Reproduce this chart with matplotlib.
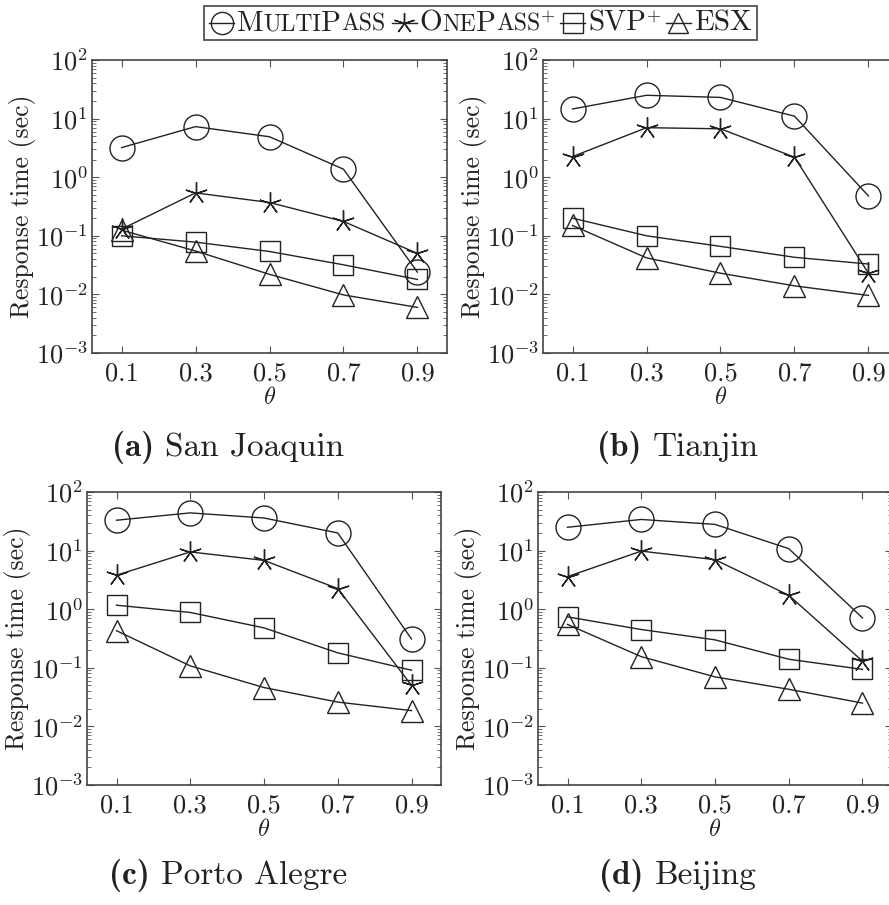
import matplotlib
matplotlib.use("Agg")
import matplotlib.pyplot as plt
from matplotlib.lines import Line2D
from matplotlib.patches import Rectangle
from matplotlib.transforms import IdentityTransform
import numpy as np

plt.rcParams['mathtext.fontset'] = 'cm'
plt.rcParams['font.family'] = ['cmr10', 'DejaVu Serif']
plt.rcParams['axes.formatter.use_mathtext'] = True
plt.rcParams['axes.unicode_minus'] = False

# ---------------- data ----------------
theta = [0.1, 0.3, 0.5, 0.7, 0.9]
theta_ticks = ["0.1", "0.3", "0.5", "0.7", "0.9"]
series_names = ["MultiPass", "OnePass+", "SVP+", "ESX"]

sj_multipass = [3.2, 7.3, 4.9, 1.37, 0.024]
sj_onepass = [0.13, 0.54, 0.37, 0.176, 0.05]
sj_svp = [0.10, 0.078, 0.054, 0.032, 0.018]
sj_esx = [0.125, 0.055, 0.022, 0.0098, 0.006]

tj_multipass = [14.6, 25, 23, 11, 0.48]
tj_onepass = [2.25, 7.0, 6.7, 2.2, 0.023]
tj_svp = [0.20, 0.10, 0.066, 0.043, 0.033]
tj_esx = [0.15, 0.042, 0.023, 0.014, 0.0096]

pa_multipass = [33, 44, 36, 20, 0.31]
pa_onepass = [3.8, 9.5, 6.8, 2.25, 0.05]
pa_svp = [1.17, 0.88, 0.48, 0.18, 0.091]
pa_esx = [0.43, 0.108, 0.046, 0.026, 0.0186]

bj_multipass = [25, 34, 28, 10.8, 0.71]
bj_onepass = [3.6, 9.8, 7.0, 1.73, 0.13]
bj_svp = [0.74, 0.45, 0.30, 0.14, 0.094]
bj_esx = [0.55, 0.155, 0.07, 0.043, 0.025]

panel_labels = ["(a)", "(b)", "(c)", "(d)"]
panel_cities = ["San Joaquin", "Tianjin", "Porto Alegre", "Beijing"]
panel_data = [
    [sj_multipass, sj_onepass, sj_svp, sj_esx],
    [tj_multipass, tj_onepass, tj_svp, tj_esx],
    [pa_multipass, pa_onepass, pa_svp, pa_esx],
    [bj_multipass, bj_onepass, bj_svp, bj_esx],
]

# ---------------- style ----------------
W, H = 889, 905
fig = plt.figure(figsize=(W / 100, H / 100), dpi=100)

LC = '#222222'
markers = ['o', (5, 2, 0), 's', '^']
msizes = [18, 16, 15, 16]

# axes rectangles in pixels: left, top, right, bottom
rects_px = [
    (92, 60, 447, 353),
    (543, 60, 898, 353),
    (87, 492, 441, 785),
    (538, 492, 892, 785),
]
captions_px = [(228, 447), (678, 447), (228, 875), (678, 875)]

for i, (l, t, r, b) in enumerate(rects_px):
    ax = fig.add_axes([l / W, 1 - b / H, (r - l) / W, (b - t) / H])
    for j, vals in enumerate(panel_data[i]):
        ax.plot(theta, vals, color=LC, lw=1.0, marker=markers[j],
                ms=msizes[j], mfc='none', mec=LC, mew=1.0)
    ax.set_yscale('log')
    ax.set_ylim(1e-3, 1e2)
    ax.set_xlim(0.02, 0.98)
    ax.set_xticks(theta)
    ax.set_xticklabels(theta_ticks)
    ax.tick_params(axis='both', which='both', direction='in', top=True,
                   right=True, colors='#555555', labelcolor='#222222',
                   labelsize=19)
    ax.tick_params(axis='both', which='major', length=5, width=0.8)
    ax.tick_params(axis='y', which='minor', length=3, width=0.6)
    ax.tick_params(axis='x', which='major', pad=6)
    ax.tick_params(axis='y', which='major', pad=3)
    for s in ax.spines.values():
        s.set_color('#444444')
        s.set_linewidth(1.2)
    ax.set_xlabel(r'$\theta$', fontsize=17.5, labelpad=1.5, color='#222222')
    ax.set_ylabel('Response time (sec)', fontsize=18.5, labelpad=0,
                  color='#222222')
    cx, cy = captions_px[i]
    t1 = fig.text(0, 0, panel_labels[i] + " ", fontsize=24,
                  family=['cmb10', 'DejaVu Serif'], color='#222222',
                  transform=IdentityTransform(), va='center')
    t2 = fig.text(0, 0, panel_cities[i], fontsize=24, color='#222222',
                  transform=IdentityTransform(), va='center')
    rend = fig.canvas.get_renderer()
    w1 = t1.get_window_extent(rend).width
    w2 = t2.get_window_extent(rend).width
    x0 = cx - (w1 + w2) / 2
    t1.set_position((x0, H - cy))
    t2.set_position((x0 + w1, H - cy))

# ---------------- legend (manual, small caps) ----------------
rend = fig.canvas.get_renderer()
BIG, SMALL = 21, 17
label_pieces = [
    [("M", BIG, 0), ("ULTI", SMALL, 0), ("P", BIG, 0), ("ASS", SMALL, 0)],
    [("O", BIG, 0), ("NE", SMALL, 0), ("P", BIG, 0), ("ASS", SMALL, 0), ("+", 13, 9)],
    [("SVP", BIG, 0), ("+", 13, 9)],
    [("ESX", BIG, 0)],
]
leg_ms = [16, 15, 14, 14]
box_l, box_t, box_b = 204, 6, 40
ymid = H - (box_t + box_b) / 2
ybase = ymid - 7.5
x = box_l + 5
lax = fig.add_axes([0, 0, 1, 1], facecolor='none')
lax.set_axis_off()
for j, pieces in enumerate(label_pieces):
    hx0, hx1 = x, x + 25
    ln = Line2D([hx0, hx1], [ymid, ymid], color=LC, lw=1.0,
                transform=IdentityTransform())
    mk = Line2D([(hx0 + hx1) / 2], [ymid], color=LC, marker=markers[j],
                ms=leg_ms[j], mfc='none', mec=LC, mew=1.0, lw=0,
                transform=IdentityTransform())
    lax.add_artist(ln)
    lax.add_artist(mk)
    x = hx1 + 3
    for txt, sz, dy in pieces:
        tt = fig.text(x, ybase + dy, txt, fontsize=sz, color='#222222',
                      transform=IdentityTransform(), va='baseline', ha='left')
        bb = tt.get_window_extent(rend)
        x += bb.width
    x += 6
box_r = x - 1
rect = Rectangle((box_l, H - box_b), box_r - box_l, box_b - box_t,
                 fill=False, edgecolor='#444444', lw=1.2,
                 transform=IdentityTransform())
lax.add_artist(rect)

fig.savefig('out.png', dpi=100)
